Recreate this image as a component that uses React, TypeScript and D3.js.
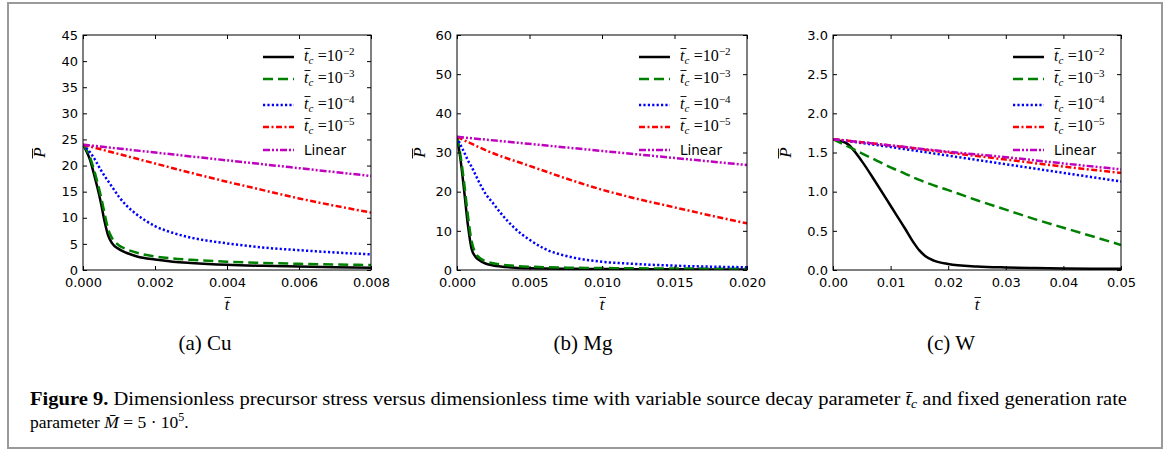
import React, { useEffect, useRef } from 'react';
import * as d3 from 'd3';

const WIDTH = 1170;
const HEIGHT = 452;
const PLOT_TOP = 35;
const PLOT_BOTTOM = 270;

// (a) Cu
const cuT = [0, 0.0001, 0.0002, 0.0003, 0.0004, 0.0005, 0.0006, 0.0007, 0.0008, 0.001, 0.0012, 0.0015, 0.002, 0.0025, 0.003, 0.004, 0.005, 0.006, 0.007, 0.008];
const cuTc2 = [24, 22.7, 21.0, 18.5, 15.8, 12.8, 9.3, 6.6, 5.2, 4.0, 3.3, 2.6, 2.0, 1.6, 1.35, 1.0, 0.8, 0.65, 0.53, 0.45];
const cuTc3 = [24, 23.0, 21.5, 19.3, 16.8, 14.0, 10.8, 7.8, 6.2, 4.7, 4.0, 3.3, 2.6, 2.2, 1.95, 1.6, 1.35, 1.18, 1.05, 0.95];
const cuTc4 = [24, 23.3, 22.5, 21.5, 20.3, 19.1, 18.0, 17.0, 16.0, 14.0, 12.4, 10.6, 8.4, 7.1, 6.2, 5.1, 4.3, 3.8, 3.35, 3.0];
const cuTc5T = [0, 0.001, 0.002, 0.003, 0.004, 0.005, 0.006, 0.007, 0.008];
const cuTc5 = [24, 22.2, 20.4, 18.6, 16.9, 15.3, 13.7, 12.3, 11.0];
const cuLinT = [0, 0.004, 0.008];
const cuLin = [24, 21, 18];

// (b) Mg
const mgT = [0, 0.00025, 0.0005, 0.00075, 0.001, 0.00125, 0.0015, 0.002, 0.0025, 0.003, 0.004, 0.005, 0.006, 0.008, 0.01, 0.012, 0.015, 0.02];
const mgTc2 = [34, 28, 20, 11.5, 5.5, 3.5, 2.6, 1.6, 1.15, 0.9, 0.6, 0.45, 0.38, 0.3, 0.25, 0.22, 0.18, 0.14];
const mgTc3 = [34, 29, 22, 14, 7.5, 4.5, 3.3, 2.2, 1.7, 1.4, 1.05, 0.85, 0.72, 0.58, 0.5, 0.44, 0.38, 0.32];
const mgTc4 = [34, 31.9, 30.0, 28.0, 26.4, 24.5, 22.6, 19.3, 17.0, 14.6, 10.6, 7.7, 5.5, 3.2, 2.1, 1.6, 1.1, 0.7];
const mgTc5T = [0, 0.0025, 0.005, 0.0075, 0.01, 0.0125, 0.015, 0.0175, 0.02];
const mgTc5 = [34, 29.8, 26.6, 23.4, 20.5, 18.1, 16.0, 13.9, 11.9];
const mgLinT = [0, 0.01, 0.02];
const mgLin = [34, 30.4, 26.8];

// (c) W
const wT = [0, 0.0025, 0.005, 0.0075, 0.01, 0.0125, 0.014, 0.015, 0.016, 0.0175, 0.02, 0.025, 0.03, 0.035, 0.04, 0.045, 0.05];
const wTc2 = [1.67, 1.61, 1.39, 1.11, 0.82, 0.53, 0.35, 0.25, 0.18, 0.12, 0.077, 0.045, 0.032, 0.025, 0.02, 0.017, 0.015];
const wTc3 = [1.67, 1.58, 1.49, 1.40, 1.31, 1.23, 1.18, 1.15, 1.12, 1.08, 1.02, 0.89, 0.77, 0.65, 0.54, 0.43, 0.32];
const wTc4T = [0, 0.01, 0.02, 0.03, 0.04, 0.05];
const wTc4 = [1.67, 1.57, 1.46, 1.35, 1.24, 1.13];
const wTc5 = [1.67, 1.59, 1.50, 1.41, 1.32, 1.24];
const wLin = [1.67, 1.59, 1.51, 1.44, 1.36, 1.285];

const seriesColors = ['#000000', '#008000', '#0000ff', '#ff0000', '#bf00bf'];
const seriesDashes = ['none', '10,5', '2.2,2.2', '6,2.5,2,2.5', '7,2,2,2,2,2'];
const legendExponents = ['\u22122', '\u22123', '\u22124', '\u22125'];

const panels = [
  {
    key: 'a', caption: '(a) Cu', captionX: 205, left: 83, right: 371,
    xMax: 0.008, xTicks: [0, 0.002, 0.004, 0.006, 0.008], xFmt: '.3f',
    yMax: 45, yTicks: [0, 5, 10, 15, 20, 25, 30, 35, 40, 45], yFmt: 'd', yLabelX: 40,
    series: [[cuT, cuTc2], [cuT, cuTc3], [cuT, cuTc4], [cuTc5T, cuTc5], [cuLinT, cuLin]]
  },
  {
    key: 'b', caption: '(b) Mg', captionX: 583, left: 457, right: 747,
    xMax: 0.02, xTicks: [0, 0.005, 0.01, 0.015, 0.02], xFmt: '.3f',
    yMax: 60, yTicks: [0, 10, 20, 30, 40, 50, 60], yFmt: 'd', yLabelX: 420,
    series: [[mgT, mgTc2], [mgT, mgTc3], [mgT, mgTc4], [mgTc5T, mgTc5], [mgLinT, mgLin]]
  },
  {
    key: 'c', caption: '(c) W', captionX: 951, left: 833, right: 1121,
    xMax: 0.05, xTicks: [0, 0.01, 0.02, 0.03, 0.04, 0.05], xFmt: '.2f',
    yMax: 3, yTicks: [0, 0.5, 1, 1.5, 2, 2.5, 3], yFmt: '.1f', yLabelX: 786,
    series: [[wT, wTc2], [wT, wTc3], [wTc4T, wTc4], [wTc4T, wTc5], [wTc4T, wLin]]
  }
];

const legendRowsY = [57, 79, 105, 127, 150];

const MATH_FONT = "'Liberation Serif', 'DejaVu Serif', serif";
const TICK_FONT = "'DejaVu Sans', sans-serif";

export default function App() {
  const ref = useRef<SVGSVGElement | null>(null);

  useEffect(() => {
    const el = ref.current;
    if (!el) return;
    const svg = d3.select(el);
    svg.selectAll('*').remove();

    svg.append('rect').attr('x', 0).attr('y', 0).attr('width', WIDTH).attr('height', HEIGHT).attr('fill', '#fff');
    // outer frame
    svg.append('rect').attr('x', 8).attr('y', 3).attr('width', 1154).attr('height', 445)
      .attr('fill', 'none').attr('stroke', '#9a9a9a').attr('stroke-width', 2);

    const defs = svg.append('defs');

    panels.forEach(p => {
      const x = d3.scaleLinear().domain([0, p.xMax]).range([p.left, p.right]);
      const y = d3.scaleLinear().domain([0, p.yMax]).range([PLOT_BOTTOM, PLOT_TOP]);
      const g = svg.append('g');

      defs.append('clipPath').attr('id', `clip-${p.key}`).append('rect')
        .attr('x', p.left).attr('y', PLOT_TOP).attr('width', p.right - p.left).attr('height', PLOT_BOTTOM - PLOT_TOP);

      const line = d3.line<[number, number]>().x(d => x(d[0])).y(d => y(d[1])).curve(d3.curveMonotoneX);
      const lines = g.append('g').attr('clip-path', `url(#clip-${p.key})`);
      p.series.forEach(([ts, vs], i) => {
        const pts = ts.map((tv, j) => [tv, vs[j]] as [number, number]);
        lines.append('path').datum(pts).attr('d', line)
          .attr('fill', 'none').attr('stroke', seriesColors[i]).attr('stroke-width', 2.5)
          .attr('stroke-dasharray', seriesDashes[i]).attr('stroke-linejoin', 'round');
      });

      // axes (ticks inward on all sides)
      const styleAxis = (ax: any) => {
        ax.select('.domain').remove();
        ax.selectAll('line').attr('stroke', '#000');
        ax.attr('font-family', TICK_FONT).attr('font-size', 13);
        ax.selectAll('text').attr('fill', '#000');
      };
      g.append('g').attr('transform', `translate(0,${PLOT_BOTTOM})`)
        .call(d3.axisBottom(x).tickValues(p.xTicks).tickSizeInner(-4).tickSizeOuter(0).tickPadding(8).tickFormat(d3.format(p.xFmt)) as any)
        .call(styleAxis);
      g.append('g').attr('transform', `translate(0,${PLOT_TOP})`)
        .call(d3.axisTop(x).tickValues(p.xTicks).tickSizeInner(-4).tickSizeOuter(0).tickFormat(() => '') as any)
        .call(styleAxis);
      g.append('g').attr('transform', `translate(${p.left},0)`)
        .call(d3.axisLeft(y).tickValues(p.yTicks).tickSizeInner(-4).tickSizeOuter(0).tickPadding(5).tickFormat(d3.format(p.yFmt)) as any)
        .call(styleAxis);
      g.append('g').attr('transform', `translate(${p.right},0)`)
        .call(d3.axisRight(y).tickValues(p.yTicks).tickSizeInner(-4).tickSizeOuter(0).tickFormat(() => '') as any)
        .call(styleAxis);

      g.append('rect').attr('x', p.left).attr('y', PLOT_TOP).attr('width', p.right - p.left).attr('height', PLOT_BOTTOM - PLOT_TOP)
        .attr('fill', 'none').attr('stroke', '#000').attr('stroke-width', 1);

      // legend
      const lg = g.append('g');
      legendRowsY.forEach((ly, i) => {
        lg.append('line').attr('x1', p.right - 108).attr('x2', p.right - 77).attr('y1', ly).attr('y2', ly)
          .attr('stroke', seriesColors[i]).attr('stroke-width', 2.5).attr('stroke-dasharray', seriesDashes[i]);
        const tx = p.right - 67;
        if (i < 4) {
          const base = ly + 4;
          const t = lg.append('text').attr('x', tx).attr('y', base).attr('font-family', MATH_FONT).attr('font-size', 16).attr('fill', '#000');
          t.append('tspan').attr('font-style', 'italic').text('t');
          t.append('tspan').attr('font-style', 'italic').attr('font-size', 11).attr('dy', 3).text('c');
          t.append('tspan').attr('dy', -3).attr('dx', 4.5).text('=10');
          t.append('tspan').attr('font-size', 11).attr('dy', -6).text(legendExponents[i]);
          lg.append('line').attr('x1', tx + 0.5).attr('x2', tx + 6.5).attr('y1', base - 12.5).attr('y2', base - 12.5)
            .attr('stroke', '#000').attr('stroke-width', 0.9);
        } else {
          lg.append('text').attr('x', tx).attr('y', ly + 5).attr('font-family', TICK_FONT).attr('font-size', 13.5)
            .attr('fill', '#000').text('Linear');
        }
      });

      // x label  t-bar
      const cx = (p.left + p.right) / 2;
      g.append('text').attr('x', cx).attr('y', 310).attr('text-anchor', 'middle').attr('font-family', MATH_FONT)
        .attr('font-style', 'italic').attr('font-size', 17).attr('fill', '#000').text('t');
      g.append('line').attr('x1', cx - 2.5).attr('x2', cx + 4).attr('y1', 297.5).attr('y2', 297.5).attr('stroke', '#000').attr('stroke-width', 0.9);

      // y label  P-bar
      const cy = (PLOT_TOP + PLOT_BOTTOM) / 2;
      g.append('text').attr('transform', `translate(${p.yLabelX + 5},${cy}) rotate(-90)`).attr('text-anchor', 'middle')
        .attr('font-family', MATH_FONT).attr('font-style', 'italic').attr('font-size', 17).attr('fill', '#000').text('P');
      g.append('line').attr('x1', p.yLabelX - 7.5).attr('x2', p.yLabelX - 7.5).attr('y1', cy - 4).attr('y2', cy + 6)
        .attr('stroke', '#000').attr('stroke-width', 0.9);

      // sub-caption
      g.append('text').attr('x', p.captionX).attr('y', 350).attr('text-anchor', 'middle').attr('font-family', MATH_FONT)
        .attr('font-size', 21).attr('fill', '#000').text(p.caption);
    });

    // figure caption
    const c1 = svg.append('text').attr('x', 30).attr('y', 405).attr('font-family', MATH_FONT).attr('font-size', 18)
      .attr('fill', '#000').attr('textLength', 1097).attr('lengthAdjust', 'spacingAndGlyphs');
    c1.append('tspan').attr('font-weight', 'bold').text('Figure 9.');
    c1.append('tspan').text(' Dimensionless precursor stress versus dimensionless time with variable source decay parameter ');
    c1.append('tspan').attr('font-style', 'italic').text('t\u0304');
    c1.append('tspan').attr('font-style', 'italic').attr('font-size', 12).attr('dy', 3).text('c');
    c1.append('tspan').attr('dy', -3).text(' and fixed generation rate');

    const c2 = svg.append('text').attr('x', 30).attr('y', 428).attr('font-family', MATH_FONT).attr('font-size', 17.5)
      .attr('fill', '#000');
    c2.append('tspan').text('parameter ');
    c2.append('tspan').attr('font-style', 'italic').text('M\u0304');
    c2.append('tspan').text(' = 5 \u00b7 10');
    c2.append('tspan').attr('font-size', 12).attr('dy', -7).text('5');
    c2.append('tspan').attr('dy', 7).text('.');
  }, []);

  return (
    <div style={{ position: 'absolute', left: 0, top: 0 }}>
      <svg ref={ref} width={WIDTH} height={HEIGHT} style={{ display: 'block' }} />
    </div>
  );
}
